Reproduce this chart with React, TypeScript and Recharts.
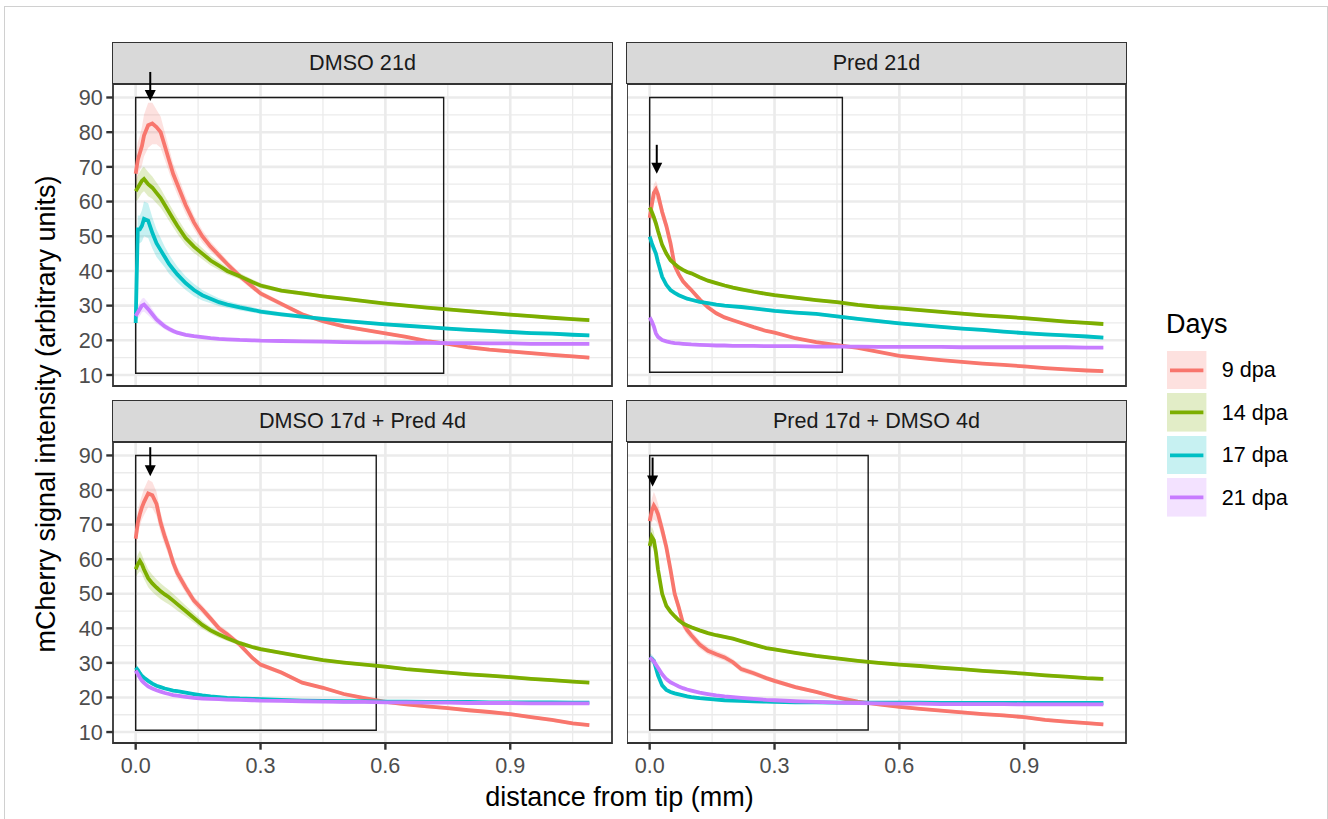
import React from 'react';
import {
  ComposedChart, Line, Area, XAxis, YAxis, CartesianGrid, ReferenceArea, ReferenceDot,
} from 'recharts';

// ---------- data ----------
const X = [0, 0.005, 0.01, 0.015, 0.02, 0.03, 0.04, 0.05, 0.06, 0.07, 0.08, 0.09, 0.1, 0.12, 0.14, 0.16, 0.18, 0.2, 0.22, 0.25, 0.28, 0.3, 0.35, 0.4, 0.45, 0.5, 0.55, 0.6, 0.65, 0.7, 0.75, 0.8, 0.85, 0.9, 0.95, 1.0, 1.05, 1.09];

const PANELS = ['DMSO 21d', 'Pred 21d', 'DMSO 17d + Pred 4d', 'Pred 17d + DMSO 4d'];
const SERIES = ['9 dpa', '14 dpa', '17 dpa', '21 dpa'];
const COLORS = ['#F8766D', '#7CAE00', '#00BFC4', '#C77CFF'];

// DMSO 21d
const P1_9 = [68, 72, 74, 76, 79, 82, 82.5, 81.5, 80, 76, 72, 68, 65, 59, 54, 50, 47, 44.5, 42, 38.5, 35.5, 33.5, 30.5, 27.5, 25.5, 24, 23, 22, 21, 19.8, 19, 18, 17.3, 16.8, 16.3, 15.8, 15.4, 15];
const P1_14 = [63, 64, 65, 66, 66.5, 65, 64, 62.5, 61, 59, 57, 55, 53, 49.5, 47, 45, 43, 41.5, 40, 38.5, 36.8, 35.8, 34.3, 33.5, 32.7, 32, 31.3, 30.6, 30, 29.4, 28.9, 28.4, 27.9, 27.4, 27, 26.5, 26.1, 25.8];
const P1_17 = [25, 52, 52, 53, 55, 54.5, 51, 48, 46, 44, 42, 40.5, 39, 36.5, 34.5, 33, 32, 31, 30.3, 29.5, 28.8, 28.3, 27.5, 26.8, 26.2, 25.6, 25.1, 24.6, 24.2, 23.8, 23.4, 23, 22.7, 22.4, 22.1, 21.9, 21.6, 21.4];
const P1_21 = [27, 28, 29, 30, 30.3, 29, 27.5, 26, 25, 24, 23.3, 22.7, 22.2, 21.6, 21.2, 20.9, 20.6, 20.4, 20.3, 20.1, 20, 19.9, 19.8, 19.7, 19.6, 19.5, 19.4, 19.4, 19.3, 19.3, 19.2, 19.2, 19.1, 19.1, 19, 19, 19, 19];
// Pred 21d
const P2_9 = [55.3, 59, 62.5, 63.5, 62, 57, 53, 48, 41.5, 39, 37, 35.7, 34.5, 31.8, 29.5, 27.8, 26.6, 25.8, 25, 23.8, 22.7, 22.2, 20.6, 19.5, 18.6, 17.8, 16.7, 15.5, 14.9, 14.3, 13.8, 13.3, 12.9, 12.5, 12, 11.6, 11.3, 11.1];
const P2_14 = [58.3, 57, 55.5, 53.7, 51.5, 47.5, 45, 43.1, 42, 41, 40.3, 39.7, 39.3, 38.2, 37.2, 36.5, 35.8, 35.2, 34.7, 34, 33.4, 33, 32.3, 31.6, 31, 30.2, 29.6, 29.2, 28.7, 28.2, 27.7, 27.2, 26.8, 26.4, 25.9, 25.4, 25, 24.7];
const P2_17 = [49.9, 48, 46.5, 45, 42.5, 38.3, 36, 34.5, 33.7, 33, 32.5, 32, 31.7, 31.1, 30.7, 30.3, 30, 29.8, 29.6, 29.2, 28.8, 28.5, 28, 27.6, 26.9, 26.2, 25.5, 24.9, 24.4, 23.9, 23.4, 23, 22.5, 22.1, 21.7, 21.4, 21.1, 20.8];
const P2_21 = [26.6, 25.5, 24, 22, 21, 20.1, 19.7, 19.4, 19.2, 19.1, 19, 18.9, 18.8, 18.7, 18.6, 18.5, 18.5, 18.4, 18.4, 18.4, 18.3, 18.3, 18.3, 18.2, 18.2, 18.2, 18.1, 18.1, 18.1, 18.1, 18, 18, 18, 18, 18, 18, 17.9, 17.9];
// DMSO 17d + Pred 4d
const P3_9 = [65.9, 70.5, 73, 75, 76.5, 79, 78.5, 76, 70.5, 66.5, 63, 59, 56, 51.8, 48, 45.5, 42.8, 40, 38.3, 35.3, 31.5, 29.5, 27.2, 24.3, 22.8, 21, 19.8, 18.7, 18, 17.4, 16.9, 16.3, 15.8, 15.2, 14.3, 13.5, 12.5, 12];
const P3_14 = [57.1, 58.5, 59.5, 58.5, 57, 54.5, 53, 51.8, 50.7, 49.8, 49, 48, 47, 45, 43, 41, 39.4, 38.2, 37.1, 35.7, 34.6, 34, 32.9, 31.8, 30.8, 30.1, 29.5, 28.9, 28.2, 27.7, 27.2, 26.7, 26.3, 25.9, 25.4, 25, 24.6, 24.3];
const P3_17 = [28.7, 28, 27, 26.2, 25.7, 24.8, 24, 23.4, 23, 22.6, 22.3, 22, 21.8, 21.4, 21, 20.6, 20.3, 20.1, 19.9, 19.7, 19.6, 19.5, 19.3, 19.1, 19, 18.9, 18.9, 18.8, 18.8, 18.7, 18.7, 18.7, 18.6, 18.6, 18.6, 18.6, 18.5, 18.5];
const P3_21 = [27.8, 26.8, 25.8, 24.8, 24.2, 23.2, 22.6, 22.1, 21.7, 21.3, 21, 20.7, 20.5, 20.2, 19.9, 19.7, 19.6, 19.5, 19.4, 19.3, 19.2, 19.1, 19, 18.9, 18.8, 18.7, 18.7, 18.6, 18.6, 18.5, 18.5, 18.4, 18.4, 18.4, 18.3, 18.3, 18.3, 18.3];
// Pred 17d + DMSO 4d
const P4_9 = [71, 74, 75.5, 74.5, 73, 68.5, 63.5, 57, 50, 46, 41.5, 39.5, 38, 35.3, 33.5, 32.5, 31.6, 30.2, 28.2, 27, 25.6, 24.8, 23, 21.6, 20, 18.8, 18, 17.3, 16.7, 16.2, 15.7, 15.2, 14.8, 14.3, 13.5, 13, 12.6, 12.2];
const P4_14 = [63.8, 66.5, 65.5, 62, 57, 50, 46.5, 44.8, 43.5, 42.3, 41.4, 40.8, 40.3, 39.4, 38.6, 38, 37.5, 37, 36.3, 35.3, 34.3, 33.9, 32.9, 32, 31.3, 30.6, 30, 29.5, 29.1, 28.6, 28.2, 27.7, 27.3, 26.9, 26.4, 26, 25.6, 25.4];
const P4_17 = [31.6, 31.2, 30.6, 28.5, 26.4, 23.5, 22.2, 21.6, 21.2, 20.9, 20.6, 20.3, 20.1, 19.8, 19.6, 19.4, 19.2, 19.1, 19, 18.9, 18.8, 18.7, 18.6, 18.6, 18.5, 18.5, 18.5, 18.5, 18.5, 18.4, 18.4, 18.4, 18.4, 18.4, 18.4, 18.4, 18.4, 18.4];
const P4_21 = [31.6, 31, 30.5, 29.5, 28.6, 26.7, 25.3, 24.4, 23.8, 23.2, 22.7, 22.3, 22, 21.4, 21, 20.6, 20.3, 20.1, 19.9, 19.6, 19.3, 19.2, 18.9, 18.7, 18.5, 18.4, 18.3, 18.2, 18.2, 18.1, 18.1, 18.1, 18.1, 18, 18, 18, 18, 18];

// ribbon half-widths (standard error)
const S1_9 = [5, 5, 5, 5.5, 6, 6.5, 6, 5, 4.5, 4, 3.5, 3, 3, 2.5, 2, 1.8, 1.5, 1.3, 1.1, 1, 0.9, 0.8, 0.7, 0.6, 0.6, 0.5, 0.5, 0.5, 0.5, 0.5, 0.5, 0.5, 0.5, 0.5, 0.5, 0.5, 0.5, 0.5];
const S1_14 = [3, 3.5, 3.5, 3.5, 3.5, 3.5, 3.2, 3, 2.8, 2.6, 2.5, 2.4, 2.3, 2, 1.8, 1.6, 1.4, 1.2, 1, 0.9, 0.8, 0.7, 0.6, 0.6, 0.5, 0.5, 0.5, 0.5, 0.5, 0.5, 0.5, 0.5, 0.5, 0.5, 0.5, 0.5, 0.5, 0.5];
const S1_17 = [3, 4, 4, 4.5, 5, 5, 4.5, 4, 3.5, 3, 2.8, 2.5, 2.3, 2, 1.8, 1.5, 1.3, 1.1, 1, 0.9, 0.8, 0.7, 0.6, 0.6, 0.5, 0.5, 0.5, 0.5, 0.5, 0.5, 0.5, 0.5, 0.5, 0.5, 0.5, 0.5, 0.5, 0.5];
const S1_21 = [1.5, 1.8, 2, 2, 2, 1.8, 1.5, 1.2, 1, 0.9, 0.8, 0.7, 0.6, 0.5, 0.5, 0.4, 0.4, 0.4, 0.4, 0.4, 0.4, 0.4, 0.4, 0.4, 0.4, 0.4, 0.4, 0.4, 0.4, 0.4, 0.4, 0.4, 0.4, 0.4, 0.4, 0.4, 0.4, 0.4];
const S2_9 = [3, 3, 2.5, 2.5, 2.5, 2, 1.8, 1.5, 1.2, 1, 0.8, 0.8, 0.7, 0.6, 0.6, 0.5, 0.5, 0.4, 0.4, 0.4, 0.4, 0.4, 0.4, 0.4, 0.4, 0.4, 0.4, 0.4, 0.4, 0.4, 0.4, 0.4, 0.4, 0.4, 0.4, 0.4, 0.4, 0.4];
const S2_14 = [2, 2, 1.8, 1.5, 1.2, 1, 0.8, 0.7, 0.6, 0.5, 0.5, 0.5, 0.5, 0.5, 0.5, 0.5, 0.5, 0.5, 0.5, 0.5, 0.5, 0.5, 0.5, 0.5, 0.5, 0.5, 0.5, 0.5, 0.5, 0.5, 0.5, 0.5, 0.5, 0.5, 0.5, 0.5, 0.5, 0.5];
const S2_17 = [2.5, 2, 1.5, 1.2, 1, 0.8, 0.7, 0.6, 0.5, 0.5, 0.5, 0.5, 0.5, 0.5, 0.5, 0.5, 0.5, 0.5, 0.5, 0.5, 0.5, 0.5, 0.5, 0.5, 0.5, 0.5, 0.5, 0.5, 0.5, 0.5, 0.5, 0.5, 0.5, 0.5, 0.5, 0.5, 0.5, 0.5];
const S2_21 = [1.5, 1.2, 1, 0.8, 0.6, 0.4, 0.4, 0.4, 0.4, 0.4, 0.4, 0.4, 0.4, 0.4, 0.4, 0.4, 0.4, 0.4, 0.4, 0.4, 0.4, 0.4, 0.4, 0.4, 0.4, 0.4, 0.4, 0.4, 0.4, 0.4, 0.4, 0.4, 0.4, 0.4, 0.4, 0.4, 0.4, 0.4];
const S3_9 = [3.5, 3.5, 3.5, 3.5, 3.8, 4, 3.8, 3.5, 3, 2.5, 2.2, 2, 1.8, 1.5, 1.3, 1.2, 1.1, 1, 0.9, 0.8, 0.7, 0.7, 0.6, 0.5, 0.5, 0.5, 0.5, 0.5, 0.5, 0.5, 0.5, 0.5, 0.5, 0.5, 0.5, 0.5, 0.5, 0.5];
const S3_14 = [2.5, 2.8, 3, 2.8, 2.7, 2.6, 2.5, 2.4, 2.3, 2.2, 2.1, 2, 1.9, 1.6, 1.4, 1.2, 1, 0.9, 0.8, 0.7, 0.6, 0.6, 0.5, 0.5, 0.5, 0.5, 0.5, 0.5, 0.5, 0.5, 0.5, 0.5, 0.5, 0.5, 0.5, 0.5, 0.5, 0.5];
const S3_17 = [1, 1, 0.9, 0.8, 0.7, 0.6, 0.5, 0.4, 0.4, 0.4, 0.4, 0.4, 0.4, 0.4, 0.4, 0.4, 0.4, 0.4, 0.4, 0.4, 0.4, 0.4, 0.4, 0.4, 0.4, 0.4, 0.4, 0.4, 0.4, 0.4, 0.4, 0.4, 0.4, 0.4, 0.4, 0.4, 0.4, 0.4];
const S3_21 = [1, 1, 0.9, 0.8, 0.7, 0.6, 0.5, 0.4, 0.4, 0.4, 0.4, 0.4, 0.4, 0.4, 0.4, 0.4, 0.4, 0.4, 0.4, 0.4, 0.4, 0.4, 0.4, 0.4, 0.4, 0.4, 0.4, 0.4, 0.4, 0.4, 0.4, 0.4, 0.4, 0.4, 0.4, 0.4, 0.4, 0.4];
const S4_9 = [3, 3.5, 4, 3.5, 3, 2.5, 2.2, 2, 1.8, 1.6, 1.5, 1.4, 1.3, 1.2, 1.1, 1, 1, 0.9, 0.9, 0.8, 0.7, 0.7, 0.6, 0.5, 0.5, 0.5, 0.5, 0.5, 0.5, 0.5, 0.5, 0.5, 0.5, 0.5, 0.5, 0.5, 0.5, 0.5];
const S4_14 = [3, 3, 2.5, 2, 1.5, 1, 0.8, 0.7, 0.6, 0.5, 0.5, 0.5, 0.5, 0.5, 0.5, 0.5, 0.5, 0.5, 0.5, 0.5, 0.5, 0.5, 0.5, 0.5, 0.5, 0.5, 0.5, 0.5, 0.5, 0.5, 0.5, 0.5, 0.5, 0.5, 0.5, 0.5, 0.5, 0.5];
const S4_17 = [1.2, 1.2, 1, 0.8, 0.7, 0.6, 0.5, 0.5, 0.5, 0.5, 0.5, 0.5, 0.5, 0.5, 0.5, 0.5, 0.5, 0.5, 0.5, 0.5, 0.5, 0.5, 0.5, 0.5, 0.5, 0.5, 0.5, 0.5, 0.5, 0.5, 0.5, 0.5, 0.5, 0.5, 0.5, 0.5, 0.5, 0.5];
const S4_21 = [1, 1, 0.9, 0.8, 0.7, 0.6, 0.4, 0.4, 0.4, 0.4, 0.4, 0.4, 0.4, 0.4, 0.4, 0.4, 0.4, 0.4, 0.4, 0.4, 0.4, 0.4, 0.4, 0.4, 0.4, 0.4, 0.4, 0.4, 0.4, 0.4, 0.4, 0.4, 0.4, 0.4, 0.4, 0.4, 0.4, 0.4];

const MEANS = [[P1_9, P1_14, P1_17, P1_21], [P2_9, P2_14, P2_17, P2_21], [P3_9, P3_14, P3_17, P3_21], [P4_9, P4_14, P4_17, P4_21]];
const SES = [[S1_9, S1_14, S1_17, S1_21], [S2_9, S2_14, S2_17, S2_21], [S3_9, S3_14, S3_17, S3_21], [S4_9, S4_14, S4_17, S4_21]];

// annotations (box and arrow per panel)
const BOX_X2 = [0.74, 0.463, 0.578, 0.525];
const BOX_Y1 = [10.5, 10.8, 10.5, 10.6];
const BOX_Y2 = [90, 90, 90, 90];
const ARROW_X = [0.035, 0.017, 0.035, 0.007];
const ARROW_TIP = [89, 68, 84, 81];

const X_TICKS = [0, 0.3, 0.6, 0.9];
const X_MINOR = [0.15, 0.45, 0.75, 1.05];
const Y_TICKS = [10, 20, 30, 40, 50, 60, 70, 80, 90];
const Y_MINOR = [15, 25, 35, 45, 55, 65, 75, 85];
const XMIN = -0.0545;
const XMAX = 1.1445;
const YMIN = 6.83;
const YMAX = 93.89;

const FONT = '"Liberation Sans", Arial, Helvetica, sans-serif';
const KEYS = ['s0', 's1', 's2', 's3'];

function buildRows(p: number) {
  return X.map((x, i) => {
    const row: any = { x };
    KEYS.forEach((k, s) => {
      const m = MEANS[p][s][i];
      const e = SES[p][s][i];
      row[k] = m;
      row[k + 'r'] = [m - e, m + e];
    });
    return row;
  });
}

const arrowShape = (props: any) => {
  const { cx, cy } = props;
  if (cx == null || cy == null) return <g />;
  return (
    <g>
      <line x1={cx} y1={cy - 29} x2={cx} y2={cy - 9} stroke="#000" strokeWidth={2} />
      <polygon points={`${cx - 5.5},${cy - 11} ${cx + 5.5},${cy - 11} ${cx},${cy}`} fill="#000" />
    </g>
  );
};

const PANEL_W = 499;
const STRIP_H = 42;
const YW = 70;
const RM = 6;
const XH = 45;

function Facet({ p, left, top, plotH, showX, showY }: any) {
  const rows = buildRows(p);
  const chartLeft = showY ? left - YW : left;
  const width = (showY ? YW : 0) + PANEL_W + RM;
  const height = STRIP_H + plotH + (showX ? XH : 0) + 4;
  return (
    <>
      <div
        style={{
          position: 'absolute', left: left - 1, top: top, width: PANEL_W + 2, height: STRIP_H,
          boxSizing: 'border-box', background: '#d9d9d9', border: '1.8px solid #333',
          display: 'flex', alignItems: 'center', justifyContent: 'center',
          fontFamily: FONT, fontSize: 21.6, color: '#1a1a1a',
        }}
      >
        {PANELS[p]}
      </div>
      <div style={{ position: 'absolute', left: chartLeft, top: top }}>
        <ComposedChart width={width} height={height} data={rows}
          margin={{ top: STRIP_H, right: RM, bottom: 4, left: 0 }}>
          <CartesianGrid verticalValues={X_MINOR} horizontalValues={Y_MINOR} stroke="#ebebeb" strokeWidth={1.3} />
          <CartesianGrid verticalValues={X_TICKS} horizontalValues={Y_TICKS} stroke="#ebebeb" strokeWidth={2.6} />
          <XAxis type="number" dataKey="x" domain={[XMIN, XMAX]} allowDataOverflow ticks={X_TICKS}
            interval={0} tickFormatter={(v: number) => v.toFixed(1)} hide={!showX} height={XH}
            axisLine={false} tickSize={6.7} tickMargin={8}
            tickLine={{ stroke: '#333', strokeWidth: 2.4 }}
            tick={{ fill: '#4d4d4d', fontSize: 21.6, fontFamily: FONT }} />
          <YAxis type="number" domain={[YMIN, YMAX]} allowDataOverflow ticks={Y_TICKS}
            interval={0} hide={!showY} width={YW} axisLine={false} tickSize={6.7} tickMargin={3.5}
            tickLine={{ stroke: '#333', strokeWidth: 2.4 }}
            tick={{ fill: '#4d4d4d', fontSize: 21.6, fontFamily: FONT }} />
          {KEYS.map((k, s) => (
            <Area key={k + 'r'} dataKey={k + 'r'} type="linear" stroke="none" fill={COLORS[s]}
              fillOpacity={0.22} isAnimationActive={false} />
          ))}
          {KEYS.map((k, s) => (
            <Line key={k} dataKey={k} type="linear" stroke={COLORS[s]} strokeWidth={3.8}
              dot={false} activeDot={false} isAnimationActive={false} />
          ))}
          <ReferenceArea x1={0} x2={BOX_X2[p]} y1={BOX_Y1[p]} y2={BOX_Y2[p]} fill="none"
            stroke="#1a1a1a" strokeWidth={1.4} fillOpacity={0} ifOverflow="visible" />
          <ReferenceArea x1={XMIN} x2={XMAX} y1={YMIN} y2={YMAX} fill="none"
            stroke="#333" strokeWidth={1.8} fillOpacity={0} ifOverflow="visible" />
          <ReferenceDot x={ARROW_X[p]} y={ARROW_TIP[p]} r={1} shape={arrowShape} ifOverflow="visible" />
        </ComposedChart>
      </div>
    </>
  );
}

export default function App() {
  const legendTops = [350.7, 393.3, 435.7, 478.3];
  return (
    <div style={{ position: 'absolute', left: 0, top: 0, width: 1328, height: 819, overflow: 'hidden', background: '#fff', fontFamily: FONT }}>
      <div style={{ position: 'absolute', left: 4, top: 6, width: 1322, height: 900, border: '1px solid #d0d0d0' }} />
      <Facet p={0} left={113} top={42} plotH={302} showX={false} showY={true} />
      <Facet p={1} left={627} top={42} plotH={302} showX={false} showY={false} />
      <Facet p={2} left={113} top={400} plotH={301} showX={true} showY={true} />
      <Facet p={3} left={627} top={400} plotH={301} showX={true} showY={false} />

      {/* axis titles */}
      <div style={{ position: 'absolute', left: 619.5, top: 797, transform: 'translate(-50%, -50%)', fontSize: 27, color: '#000', whiteSpace: 'nowrap' }}>
        distance from tip (mm)
      </div>
      <div style={{ position: 'absolute', left: 46, top: 413.5, transform: 'translate(-50%, -50%) rotate(-90deg)', fontSize: 27, color: '#000', whiteSpace: 'nowrap' }}>
        mCherry signal intensity (arbitrary units)
      </div>

      {/* legend */}
      <div style={{ position: 'absolute', left: 1166, top: 309, fontSize: 27, color: '#000', whiteSpace: 'nowrap' }}>Days</div>
      {SERIES.map((name, i) => (
        <React.Fragment key={name}>
          <svg style={{ position: 'absolute', left: 1167.3, top: legendTops[i] }} width={39.4} height={38.6}>
            <rect x={0} y={0} width={39.4} height={38.6} fill={COLORS[i]} fillOpacity={0.22} />
            <line x1={3} x2={36.4} y1={19.3} y2={19.3} stroke={COLORS[i]} strokeWidth={3.8} />
          </svg>
          <div style={{ position: 'absolute', left: 1221.7, top: legendTops[i] + 19.3, transform: 'translateY(-50%)', fontSize: 21.6, color: '#000', whiteSpace: 'nowrap' }}>
            {name}
          </div>
        </React.Fragment>
      ))}
    </div>
  );
}
